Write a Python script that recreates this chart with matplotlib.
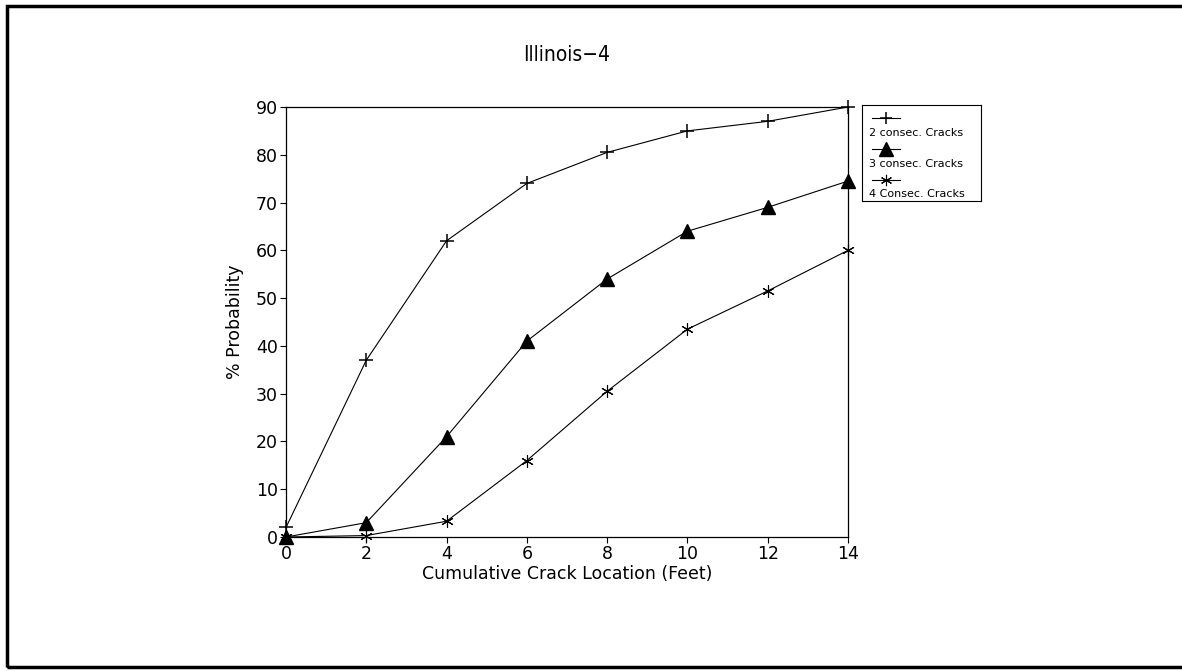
import matplotlib.pyplot as plt
import matplotlib.patches as mpatches
from matplotlib.lines import Line2D

# Данни
location_ft = [0, 2, 4, 6, 8, 10, 12, 14]
two_consec = [2, 37, 62, 74, 80.5, 85, 87, 90]
three_consec = [0, 3, 21, 41, 54, 64, 69, 74.5]
four_consec = [0, 0.3, 3.3, 16, 30.5, 43.5, 51.5, 60]
series_labels = ['2 consec. Cracks', '3 consec. Cracks', '4 Consec. Cracks']
x_ticks = [0, 2, 4, 6, 8, 10, 12, 14]
y_ticks = [0, 10, 20, 30, 40, 50, 60, 70, 80, 90]

plt.rcParams['font.family'] = ['DejaVu Sans']
fig = plt.figure(figsize=(11.82, 6.71), dpi=100)

# рамка около цялата фигура
border = mpatches.Rectangle((7 / 1182, 4 / 671), 1.1, 661 / 671, transform=fig.transFigure,
                            fill=False, edgecolor='black', linewidth=2.5)
fig.patches.append(border)

ax = fig.add_axes([286 / 1182, 134 / 671, 562 / 1182, 430 / 671])

styles = [
    dict(marker='+', markersize=10, markeredgewidth=1.1),
    dict(marker='^', markersize=10.5, markerfacecolor='black'),
    dict(marker=(6, 2, 0), markersize=9, markeredgewidth=0.8),
]
for vals, st in zip([two_consec, three_consec, four_consec], styles):
    ax.plot(location_ft, vals, color='black', linewidth=0.8, clip_on=False, **st)

ax.set_xlim(0, 14)
ax.set_ylim(0, 90)
ax.set_xticks(x_ticks)
ax.set_yticks(y_ticks)
ax.tick_params(direction='out', length=4, width=0.8, labelsize=12.5, pad=2)
for s in ax.spines.values():
    s.set_linewidth(0.9)

ax.set_title('Illinois\u22124', fontsize=15, pad=33, family=['Liberation Sans Narrow', 'DejaVu Sans'],
             stretch='condensed')
ax.set_xlabel('Cumulative Crack Location (Feet)', fontsize=12.5, labelpad=1)
ax.set_ylabel('% Probability', fontsize=12.5, labelpad=8)

# легенда - знакът над текста
lax = fig.add_axes([862 / 1182, (671 - 201) / 671, 119 / 1182, 96 / 671])
lax.set_xlim(0, 1)
lax.set_ylim(0, 1)
lax.set_xticks([])
lax.set_yticks([])
for s in lax.spines.values():
    s.set_linewidth(0.8)
for i, (lab, st) in enumerate(zip(series_labels, styles)):
    y_line = 0.86 - i * 0.32
    st2 = dict(st)
    st2['markersize'] = st['markersize'] * 0.9
    lax.add_line(Line2D([0.08, 0.2, 0.32], [y_line] * 3, color='black', linewidth=0.8,
                        markevery=[1], **st2))
    lax.text(0.06, y_line - 0.15, lab, fontsize=8, va='center', ha='left')

fig.savefig('out.png', dpi=100)
